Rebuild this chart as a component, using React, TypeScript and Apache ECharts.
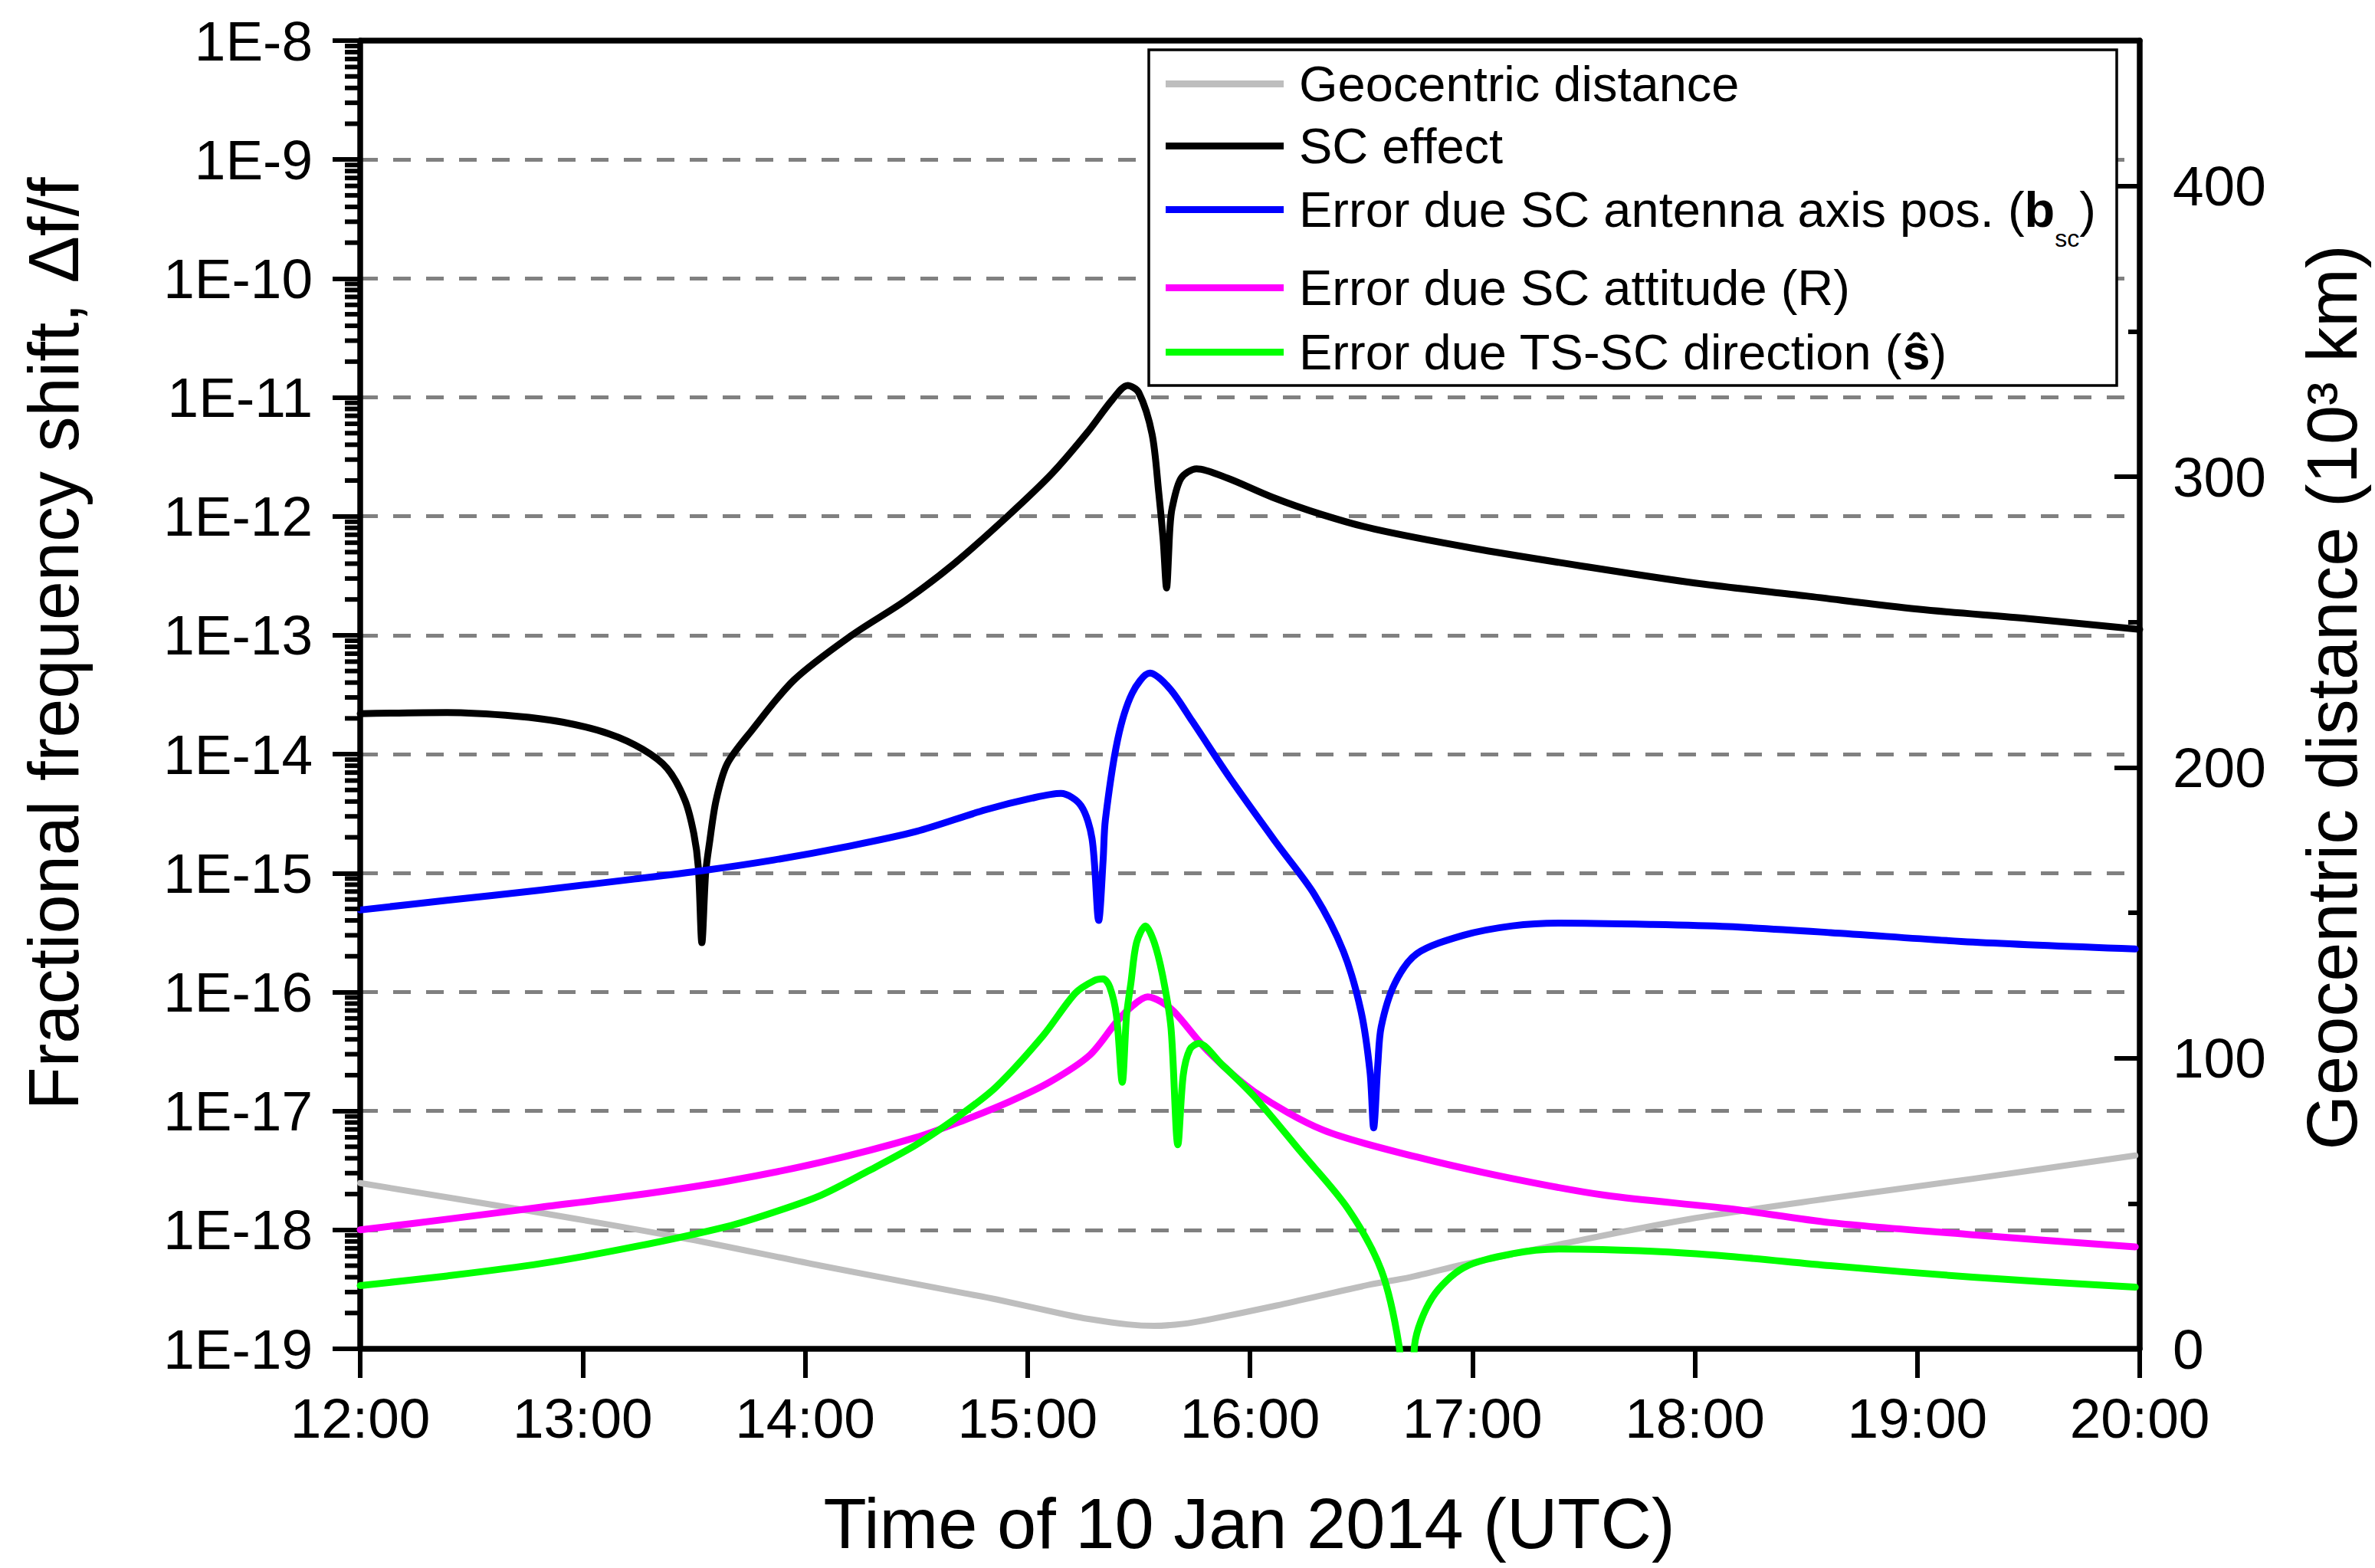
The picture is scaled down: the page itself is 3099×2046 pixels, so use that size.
import React, { useEffect, useRef } from 'react';
import * as echarts from 'echarts';

const FONT = "'Liberation Sans', Arial, Helvetica, sans-serif";

// tick labels
const xTickLabels = ['12:00', '13:00', '14:00', '15:00', '16:00', '17:00', '18:00', '19:00', '20:00'];
const minorMultipliers = [2, 3, 4, 5, 6, 7, 8, 9];
const minorDecades = [-19, -18, -17, -16, -15, -14, -13, -12, -11, -10, -9];

// series names
const N_GEO = 'Geocentric distance';
const N_SC = 'SC effect';
const N_BSC = 'Error due SC antenna axis pos. (bsc)';
const N_R = 'Error due SC attitude (R)';
const N_S = 'Error due TS-SC direction (ŝ)';
const legendNames = [N_GEO, N_SC, N_BSC, N_R, N_S];
const legendLabels: Record<string, string> = {
  [N_GEO]: 'Geocentric distance',
  [N_SC]: 'SC effect',
  [N_BSC]: 'Error due SC antenna axis pos. ({b|b}{sub|sc})',
  [N_R]: 'Error due SC attitude (R)',
  [N_S]: 'Error due TS-SC direction ({b|ŝ})',
};

// Geocentric distance, 10^3 km (time in hours UTC)
const geocentricDistance: [number, number][] = [
  [12.0, 57], [12.78, 47.2], [13.44, 38.3], [14.07, 28.6], [14.71, 19.2], [14.86, 17.0],
  [15.17, 11.8], [15.28, 10.2], [15.45, 8.4], [15.57, 7.9], [15.7, 8.6], [15.81, 10.0],
  [16.12, 14.9], [16.54, 22.1], [16.72, 24.6], [16.96, 29.0], [17.39, 35.9], [17.98, 44.7],
  [18.6, 51.7], [19.25, 58.5], [19.98, 66.5],
];

// SC effect (fractional frequency shift)
const scEffect: [number, number][] = [
  [12.0, 2.19e-14], [12.39, 2.24e-14], [12.7, 2.09e-14], [12.91, 1.86e-14], [13.12, 1.48e-14],
  [13.27, 1.1e-14], [13.38, 7.6e-15], [13.46, 4.1e-15], [13.5, 2.14e-15], [13.52, 1.12e-15],
  [13.536, 2.6e-16], [13.553, 1.0e-15], [13.57, 1.78e-15], [13.6, 4.1e-15], [13.65, 8.3e-15],
  [13.76, 1.58e-14], [13.95, 4.2e-14], [14.21, 1.0e-13], [14.45, 1.95e-13], [14.67, 4.0e-13],
  [14.91, 1.0e-12], [15.11, 2.29e-12], [15.27, 5.1e-12], [15.38, 9.5e-12], [15.45, 1.26e-11],
  [15.5, 1.1e-11], [15.56, 4.9e-12], [15.59, 1.58e-12], [15.61, 6.3e-13], [15.625, 2.5e-13],
  [15.64, 7.9e-13], [15.65, 1.17e-12], [15.69, 2.09e-12], [15.76, 2.51e-12], [15.9, 2.09e-12],
  [16.1, 1.45e-12], [16.32, 1.04e-12], [16.56, 7.8e-13], [17.0, 5.4e-13], [17.5, 3.8e-13],
  [18.0, 2.75e-13], [18.5, 2.14e-13], [19.0, 1.66e-13], [19.5, 1.38e-13], [20.0, 1.12e-13],
];

// Error due SC antenna axis position
const errAntenna: [number, number][] = [
  [12.0, 4.9e-16], [12.39, 5.9e-16], [12.81, 7.2e-16], [13.23, 8.9e-16], [13.54, 1.05e-15],
  [13.86, 1.29e-15], [14.18, 1.66e-15], [14.5, 2.24e-15], [14.81, 3.4e-15], [15.02, 4.27e-15],
  [15.15, 4.68e-15], [15.24, 3.7e-15], [15.29, 1.95e-15], [15.32, 4.0e-16], [15.34, 1.3e-15],
  [15.35, 2.8e-15], [15.405, 1.32e-14], [15.47, 3.24e-14], [15.55, 4.8e-14], [15.64, 3.55e-14],
  [15.74, 1.9e-14], [15.91, 6.3e-15], [16.12, 1.78e-15], [16.29, 6.6e-16], [16.42, 2.2e-16],
  [16.5, 6.8e-17], [16.54, 2.1e-17], [16.556, 7.2e-18], [16.575, 2.5e-17], [16.59, 5.1e-17],
  [16.65, 1.17e-16], [16.75, 2.1e-16], [16.96, 3.0e-16], [17.18, 3.6e-16], [17.39, 3.8e-16],
  [17.81, 3.7e-16], [18.15, 3.55e-16], [18.61, 3.16e-16], [19.25, 2.63e-16], [19.98, 2.3e-16],
];

// Error due SC attitude
const errAttitude: [number, number][] = [
  [12.0, 1.0e-18], [12.39, 1.23e-18], [12.81, 1.55e-18], [13.23, 1.95e-18], [13.65, 2.57e-18],
  [14.07, 3.7e-18], [14.5, 6.0e-18], [14.71, 8.3e-18], [14.92, 1.2e-17], [15.1, 1.75e-17],
  [15.28, 2.95e-17], [15.4, 5.6e-17], [15.47, 7.6e-17], [15.54, 9.1e-17], [15.6, 8.3e-17],
  [15.66, 6.8e-17], [15.81, 3.2e-17], [16.02, 1.45e-17], [16.33, 6.9e-18], [16.75, 4.1e-18],
  [17.18, 2.7e-18], [17.6, 1.95e-18], [18.15, 1.51e-18], [18.61, 1.15e-18], [19.25, 9.1e-19],
  [19.98, 7.2e-19],
];

// Error due TS-SC direction
const errDirection: [number, number][] = [
  [12.0, 3.4e-19], [12.39, 4.1e-19], [12.81, 5.2e-19], [13.23, 7.2e-19], [13.65, 1.07e-18],
  [13.86, 1.41e-18], [14.07, 1.95e-18], [14.28, 3.1e-18], [14.5, 5.2e-18], [14.71, 9.6e-18],
  [14.86, 1.6e-17], [15.07, 4.3e-17], [15.215, 9.8e-17], [15.3, 1.25e-16], [15.34, 1.29e-16],
  [15.37, 1.1e-16], [15.4, 6.3e-17], [15.426, 1.74e-17], [15.445, 6.3e-17], [15.465, 1.2e-16],
  [15.49, 2.6e-16], [15.53, 3.6e-16], [15.57, 2.6e-16], [15.61, 1.3e-16], [15.645, 5.0e-17],
  [15.676, 5.2e-18], [15.7, 2.0e-17], [15.73, 3.3e-17], [15.77, 3.7e-17], [15.87, 2.5e-17],
  [16.02, 1.32e-17], [16.23, 4.5e-18], [16.44, 1.51e-18], [16.59, 4.6e-19], [16.67, 1.07e-19],
  [16.7, 2.5e-20], [16.73, 2.5e-20], [16.74, 1.07e-19], [16.82, 2.7e-19], [16.96, 4.8e-19],
  [17.18, 6.3e-19], [17.39, 6.9e-19], [17.81, 6.6e-19], [18.15, 6.0e-19], [18.61, 5.0e-19],
  [19.25, 4.0e-19], [19.98, 3.3e-19],
];

const toLog = (pts: [number, number][]) => pts.map(([t, v]) => [t, Math.log10(v)]);

const leftMinorTicks: number[] = [];
minorDecades.forEach((d) => minorMultipliers.forEach((k) => leftMinorTicks.push(d + Math.log10(k))));

const legendTops = [77, 158, 241, 343, 427];

function buildOption() {
  const axisLineStyle = { color: '#000', width: 7.5 };
  const labelBase = { fontSize: 73, fontFamily: FONT, color: '#000' };
  const lineSeries = (name: string, data: any, color: string, width: number, yAxisIndex: number) => ({
    name,
    type: 'line',
    data,
    yAxisIndex,
    xAxisIndex: 0,
    symbol: 'none',
    showSymbol: false,
    smooth: 0.3,
    lineStyle: { color, width, cap: 'round', join: 'round' },
    itemStyle: { color },
    emphasis: { disabled: true },
    z: 2,
    clip: true,
  });
  return {
    animation: false,
    backgroundColor: '#ffffff',
    grid: { left: 470, right: 307, top: 53, bottom: 286, containLabel: false },
    xAxis: [
      {
        type: 'value', min: 12, max: 20, interval: 1, position: 'bottom',
        axisLine: { show: true, onZero: false, lineStyle: axisLineStyle },
        axisTick: { show: true, inside: false, length: 38, lineStyle: { color: '#000', width: 6 } },
        axisLabel: {
          ...labelBase, margin: 54, showMinLabel: true, showMaxLabel: true,
          formatter: (v: number) => xTickLabels[Math.round(v - 12)] ?? '',
        },
        splitLine: { show: false },
      },
      {
        type: 'value', min: 12, max: 20, interval: 1, position: 'top',
        axisLine: { show: true, onZero: false, lineStyle: axisLineStyle },
        axisTick: { show: false }, axisLabel: { show: false }, splitLine: { show: false },
      },
    ],
    yAxis: [
      {
        type: 'value', min: -19, max: -8, interval: 1, position: 'left',
        axisLine: { show: true, onZero: false, lineStyle: axisLineStyle },
        axisTick: { show: true, inside: false, length: 36, lineStyle: { color: '#000', width: 6 } },
        axisLabel: {
          ...labelBase, margin: 62, showMinLabel: true, showMaxLabel: true,
          formatter: (v: number) => '1E' + Math.round(v),
        },
        splitLine: { show: true, lineStyle: { color: '#808080', width: 5, type: [23, 20] } },
      },
      {
        type: 'value', min: 0, max: 450, interval: 100, position: 'right',
        axisLine: { show: true, onZero: false, lineStyle: axisLineStyle },
        axisTick: { show: true, inside: true, length: 33, lineStyle: { color: '#000', width: 6 } },
        axisLabel: {
          ...labelBase, margin: 43, showMinLabel: true, showMaxLabel: true,
          formatter: (v: number) => (v <= 400 ? String(v) : ''),
        },
        splitLine: { show: false },
      },
      {
        type: 'value', min: 0, max: 450, interval: 50, position: 'right',
        axisLine: { show: false },
        axisTick: { show: true, inside: true, length: 15, lineStyle: { color: '#000', width: 6 } },
        axisLabel: { show: false }, splitLine: { show: false },
      },
    ],
    legend: legendNames.map((name, i) => ({
      data: [name],
      left: 1521,
      top: legendTops[i],
      orient: 'vertical',
      padding: 0,
      icon: 'rect',
      itemWidth: 154,
      itemHeight: 9,
      selectedMode: false,
      z: 10,
      formatter: (n: string) => legendLabels[n] ?? n,
      textStyle: {
        fontSize: 65, fontFamily: FONT, color: '#000', padding: [0, 0, 0, 15],
        rich: {
          b: { fontSize: 65, fontFamily: FONT, fontWeight: 'bold', color: '#000' },
          sub: { fontSize: 32, fontFamily: FONT, color: '#000', padding: [74, 0, 0, 0] },
        },
      },
    })),
    graphic: [
      {
        type: 'rect', z: 5, silent: true,
        shape: { x: 1499, y: 65, width: 1263, height: 438 },
        style: { fill: '#ffffff', stroke: '#000', lineWidth: 3.5 },
      },
      {
        type: 'text', x: 1630, y: 1988, silent: true,
        style: {
          text: 'Time of 10 Jan 2014 (UTC)', fontSize: 92, fontFamily: FONT, fill: '#000',
          align: 'center', verticalAlign: 'middle', textAlign: 'center', textVerticalAlign: 'middle',
        },
      },
      {
        type: 'text', x: 70, y: 840, rotation: Math.PI / 2, silent: true,
        style: {
          text: 'Fractional frequency shift, Δf/f', fontSize: 92, fontFamily: FONT, fill: '#000',
          align: 'center', verticalAlign: 'middle', textAlign: 'center', textVerticalAlign: 'middle',
        },
      },
      {
        type: 'text', x: 3043, y: 910, rotation: Math.PI / 2, silent: true,
        style: {
          text: 'Geocentric distance (10³ km)', fontSize: 92, fontFamily: FONT, fill: '#000',
          align: 'center', verticalAlign: 'middle', textAlign: 'center', textVerticalAlign: 'middle',
        },
      },
    ],
    series: [
      lineSeries(N_GEO, geocentricDistance, '#BEBEBE', 8, 1),
      lineSeries(N_SC, toLog(scEffect), '#000000', 9, 0),
      lineSeries(N_BSC, toLog(errAntenna), '#0000FF', 9, 0),
      lineSeries(N_R, toLog(errAttitude), '#FF00FF', 9, 0),
      lineSeries(N_S, toLog(errDirection), '#00FF00', 9, 0),
      {
        type: 'custom',
        name: 'leftMinorTicks',
        xAxisIndex: 0,
        yAxisIndex: 0,
        silent: true,
        clip: false,
        z: 3,
        encode: { x: 0, y: 1 },
        data: leftMinorTicks.map((v) => [12, v]),
        renderItem: (_params: any, api: any) => {
          const p = api.coord([api.value(0), api.value(1)]);
          return {
            type: 'line',
            shape: { x1: p[0] - 20, y1: p[1], x2: p[0], y2: p[1] },
            style: { stroke: '#000', lineWidth: 6 },
          };
        },
      },
    ],
  };
}

export default function App() {
  const ref = useRef<HTMLDivElement>(null);
  useEffect(() => {
    document.body.style.margin = '0';
    if (!ref.current) return;
    const chart = echarts.init(ref.current, null, { renderer: 'svg' });
    chart.setOption(buildOption() as any);
    return () => {
      chart.dispose();
    };
  }, []);
  return (
    <div
      ref={ref}
      style={{ position: 'absolute', left: 0, top: 0, width: 3099, height: 2046, background: '#fff' }}
    />
  );
}
